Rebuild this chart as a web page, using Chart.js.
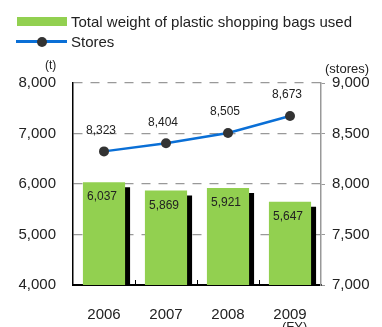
<!DOCTYPE html>
<html>
<head>
<meta charset="utf-8">
<script src="https://cdn.jsdelivr.net/npm/chart.js@4.4.1/dist/chart.umd.min.js"></script>
<style>
  html, body { margin: 0; padding: 0; background: #fff; }
  #wrap { position: relative; width: 382px; height: 327px; overflow: hidden;
          font-family: "Liberation Sans", Arial, sans-serif; color: #222; }
  #chart { position: absolute; left: 0; top: 0; }
  .txt { position: absolute; white-space: nowrap; line-height: 1; }
  .box { position: absolute; left: 17px; top: 17px; width: 50px; height: 9px; background: #92d050; }
  .lline { position: absolute; left: 16px; top: 40px; width: 51px; height: 3px; background: #0a6fd6; }
  .ldot { position: absolute; left: 37px; top: 37px; width: 10px; height: 10px; border-radius: 50%; background: #333; }
</style>
</head>
<body>
<div id="wrap">
  <canvas id="chart" width="382" height="327"></canvas>
  <div class="box"></div>
  <div class="txt" style="left:71px; top:14px; font-size:15px;">Total weight of plastic shopping bags used</div>
  <div class="lline"></div>
  <div class="ldot"></div>
  <div class="txt" style="left:71px; top:34px; font-size:15px;">Stores</div>
  <div class="txt" style="left:45px; top:59px; font-size:12px;">(t)</div>
  <div class="txt" style="left:325px; top:62px; font-size:13px;">(stores)</div>
  <div class="txt" style="left:282px; top:320px; font-size:13px;">(FY)</div>
</div>
<script>
// chart data
const years = ['2006', '2007', '2008', '2009'];
const bagWeight = [6037, 5869, 5921, 5647];   // t
const storeCount = [8323, 8404, 8505, 8673];  // stores

const fmt = v => v.toLocaleString('en-US');

// black drop shadow under the green bars
const barShadow = {
    id: 'barShadow',
    beforeDatasetDraw(chart, args) {
        if (args.index !== 0) return;
        const ctx = chart.ctx;
        ctx.save();
        ctx.shadowColor = '#000';
        ctx.shadowBlur = 0;
        ctx.shadowOffsetX = 5;
        ctx.shadowOffsetY = 5;
    },
    afterDatasetDraw(chart, args) {
        if (args.index !== 0) return;
        chart.ctx.restore();
    }
};

// value labels + small inward ticks on the category axis
const extras = {
    id: 'extras',
    afterDatasetsDraw(chart) {
        const ctx = chart.ctx;
        ctx.save();
        ctx.fillStyle = '#222';
        ctx.font = '12px "Liberation Sans", Arial, sans-serif';
        ctx.textAlign = 'center';
        ctx.textBaseline = 'middle';
        chart.getDatasetMeta(0).data.forEach((bar, i) => {
            ctx.fillText(fmt(bagWeight[i]), bar.x - 2, bar.y + 15);
        });
        chart.getDatasetMeta(1).data.forEach((pt, i) => {
            ctx.fillText(fmt(storeCount[i]), pt.x - 3, pt.y - 21);
        });

        const xs = chart.scales.x;
        const bottom = chart.chartArea.bottom;
        ctx.strokeStyle = '#000';
        ctx.lineWidth = 1;
        for (let i = 1; i < years.length; i++) {
            const x = Math.round((xs.getPixelForValue(i - 1) + xs.getPixelForValue(i)) / 2) + 0.5;
            ctx.beginPath();
            ctx.moveTo(x, bottom);
            ctx.lineTo(x, bottom - 5);
            ctx.stroke();
        }
        ctx.restore();
    }
};

Chart.defaults.font.family = '"Liberation Sans", Arial, sans-serif';
Chart.defaults.color = '#222';

new Chart(document.getElementById('chart'), {
    type: 'bar',
    data: {
        labels: years,
        datasets: [
            {
                type: 'bar',
                label: 'Total weight of plastic shopping bags used',
                data: bagWeight,
                backgroundColor: '#92d050',
                borderWidth: 0,
                barPercentage: 0.68,
                categoryPercentage: 1,
                yAxisID: 'y',
                order: 2
            },
            {
                type: 'line',
                label: 'Stores',
                data: storeCount,
                borderColor: '#0a6fd6',
                borderWidth: 2.5,
                pointRadius: 5,
                pointBackgroundColor: '#333',
                pointBorderWidth: 0,
                tension: 0,
                yAxisID: 'y1',
                order: 1
            }
        ]
    },
    options: {
        responsive: false,
        animation: false,
        devicePixelRatio: 1,
        layout: { padding: { top: 83, left: 0, right: 0, bottom: 0 } },
        plugins: {
            legend: { display: false },
            tooltip: { enabled: false }
        },
        scales: {
            x: {
                grid: { display: false },
                border: { color: '#000', width: 2 },
                ticks: { font: { size: 15 }, padding: 13 },
                afterFit: s => { s.height = 42; }
            },
            y: {
                position: 'left',
                min: 4000,
                max: 8000,
                ticks: { stepSize: 1000, font: { size: 15 }, padding: 17, callback: v => fmt(v) },
                grid: {
                    drawTicks: false,
                    color: c => c.tick && c.tick.value === 4000 ? 'rgba(0,0,0,0)' : '#999',
                    lineWidth: 1.2
                },
                border: { color: '#000', width: 1.5, dash: [9, 8] },
                afterFit: s => { s.width = 73; }
            },
            y1: {
                position: 'right',
                min: 7000,
                max: 9000,
                ticks: { stepSize: 500, font: { size: 15 }, padding: 7, callback: v => fmt(v) },
                grid: { drawOnChartArea: false, tickLength: 4, color: '#999' },
                border: { color: '#999', width: 1.5 },
                afterFit: s => { s.width = 61; }
            }
        }
    },
    plugins: [barShadow, extras]
});
</script>
</body>
</html>
